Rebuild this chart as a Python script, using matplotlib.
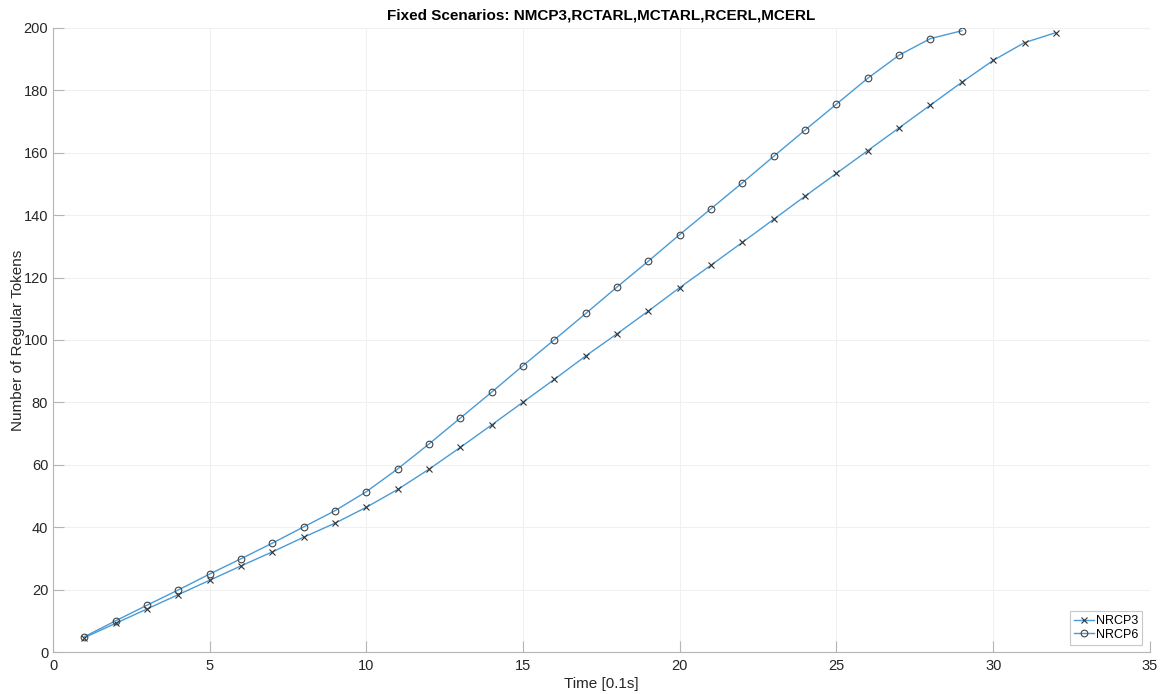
import matplotlib
matplotlib.use("Agg")
import matplotlib.pyplot as plt

plt.rcParams['font.family'] = ['Liberation Sans', 'DejaVu Sans']

# Time steps (units of 0.1 s)
time_nrcp3 = list(range(1, 33))
time_nrcp6 = list(range(1, 30))

# Cumulative number of regular tokens
nrcp3 = [4.6, 9.2, 13.8, 18.4, 23.0, 27.6, 32.1, 36.8, 41.3, 46.4,
         52.1, 58.6, 65.6, 72.8, 80.1, 87.4, 94.9, 102.0, 109.3, 116.8,
         124.0, 131.3, 138.7, 146.1, 153.4, 160.7, 168.0, 175.3, 182.6, 189.6,
         195.3, 198.5]
nrcp6 = [4.9, 10.0, 15.0, 19.9, 25.0, 29.9, 34.9, 40.1, 45.3, 51.4,
         58.7, 66.7, 75.0, 83.3, 91.8, 100.1, 108.5, 117.0, 125.3, 133.8,
         142.1, 150.4, 158.9, 167.3, 175.6, 183.9, 191.3, 196.6, 199.1]

xticks = [0, 5, 10, 15, 20, 25, 30, 35]
yticks = [0, 20, 40, 60, 80, 100, 120, 140, 160, 180, 200]

line_color = '#4a9bd6'
axis_gray = '#b5b5b5'
text_color = '#262626'

fig = plt.figure(figsize=(11.65, 6.94), dpi=100)
ax = fig.add_axes([0.0455, 0.0605, 0.9415, 0.8992])

ax.plot(time_nrcp3, nrcp3, color=line_color, linewidth=1.0,
        marker='x', markersize=4, markeredgecolor='#333333',
        markeredgewidth=0.8, label='NRCP3')
ax.plot(time_nrcp6, nrcp6, color=line_color, linewidth=1.0,
        marker='o', markersize=4.8, markerfacecolor='none',
        markeredgecolor='#444444', markeredgewidth=0.8, label='NRCP6')

ax.set_xlim(0, 35)
ax.set_ylim(0, 200)
ax.set_xticks(xticks)
ax.set_yticks(yticks)

ax.grid(True, color='#f0f0f0', linewidth=0.8)
ax.set_axisbelow(True)

for side in ('top', 'right'):
    ax.spines[side].set_visible(False)
for side in ('left', 'bottom'):
    ax.spines[side].set_color(axis_gray)
    ax.spines[side].set_linewidth(0.8)

ax.tick_params(direction='in', length=8, width=0.8, color=axis_gray,
               labelcolor=text_color, labelsize=10.5)
ax.tick_params(axis='y', pad=3.5)
ax.tick_params(axis='x', pad=5)

ax.set_xlabel('Time [0.1s]', fontsize=11, color=text_color, labelpad=3)
ax.set_ylabel('Number of Regular Tokens', fontsize=11, color=text_color, labelpad=-1)
ax.set_title('Fixed Scenarios: NMCP3,RCTARL,MCTARL,RCERL,MCERL',
             fontsize=11, fontweight='bold', color='black', pad=6)

leg = ax.legend(loc='lower right', fontsize=9, frameon=True, fancybox=False,
                edgecolor='#c8c8c8', framealpha=1, borderpad=0.3,
                handlelength=1.6, handletextpad=0.2, labelspacing=0.15,
                borderaxespad=0.6)
leg.get_frame().set_linewidth(0.8)

fig.savefig('out.png', dpi=100)
